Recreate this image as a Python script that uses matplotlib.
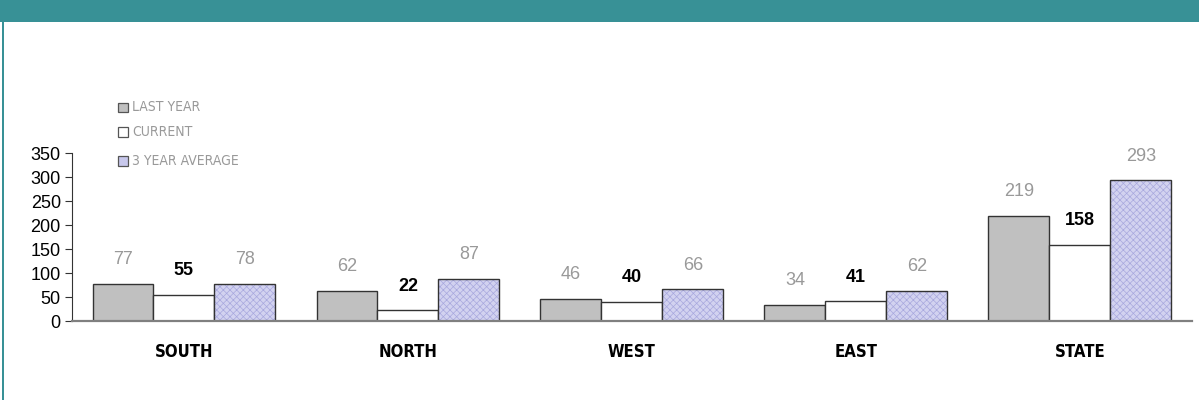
import numpy as np
import matplotlib.pyplot as plt
from matplotlib.patches import Rectangle

regions = ["SOUTH", "NORTH", "WEST", "EAST", "STATE"]
last_year = [77, 62, 46, 34, 219]
current = [55, 22, 40, 41, 158]
three_year_avg = [78, 87, 66, 62, 293]
series_names = ["LAST YEAR", "CURRENT", "3 YEAR AVERAGE"]

fig = plt.figure(figsize=(11.99, 4.0), dpi=100)

# teal header band and left border
fig.patches.append(Rectangle((0, 0.945), 1, 0.055, transform=fig.transFigure,
                             facecolor="#389196", edgecolor="none"))
fig.patches.append(Rectangle((0.0015, 0), 0.0015, 0.945, transform=fig.transFigure,
                             facecolor="#389196", edgecolor="none"))

ax = fig.add_axes([0.060, 0.1975, 0.934, 0.42])
x = np.arange(len(regions))
w = 0.272

edge = "#333333"
ax.bar(x - w, last_year, w, color="#c0c0c0", edgecolor=edge, linewidth=1.0)
ax.bar(x, current, w, color="white", edgecolor=edge, linewidth=1.0)
# fine dotted fill for the average bars
plt.rcParams["hatch.color"] = "#a8a8de"
plt.rcParams["hatch.linewidth"] = 0.5
ax.bar(x + w, three_year_avg, w, color="#d2d2f0", edgecolor="#a8a8de",
       linewidth=0, hatch="xxxxx")
ax.bar(x + w, three_year_avg, w, color="none", edgecolor=edge, linewidth=1.0)

val_font = dict(textcoords="offset points", ha="center", va="center",
                fontsize=13, family="Liberation Sans")
for i in range(len(regions)):
    ax.annotate(str(last_year[i]), (x[i] - w, last_year[i]), xytext=(0, 17.5),
                color="#999999", **val_font)
    ax.annotate(str(current[i]), (x[i], current[i]), xytext=(0, 17.5),
                color="black", fontweight="bold", **val_font)
    ax.annotate(str(three_year_avg[i]), (x[i] + w, three_year_avg[i]), xytext=(0, 17.5),
                color="#999999", **val_font)

ax.set_xlim(-0.5, len(regions) - 0.5)
ax.set_ylim(0, 350)
ax.set_yticks(range(0, 351, 50))
ax.tick_params(axis="y", labelsize=13, length=5, width=0.8, color="#333333", pad=3)
for lbl in ax.get_yticklabels():
    lbl.set_family("Liberation Sans")
ax.set_xticks(x)
ax.set_xticklabels(regions, fontsize=12, family="DejaVu Sans",
                   fontstretch="condensed", fontweight="semibold")
ax.tick_params(axis="x", length=0, pad=16)

ax.spines["top"].set_visible(False)
ax.spines["right"].set_visible(False)
ax.spines["left"].set_color("#333333")
ax.spines["left"].set_linewidth(0.8)
ax.spines["bottom"].set_color("#808080")
ax.spines["bottom"].set_linewidth(1.6)

# legend entries drawn as small squares with grey labels
legend_y = [0.732, 0.670, 0.598]
colors = ["#c0c0c0", "white", "#c8c8ec"]
for name, yy, c in zip(series_names, legend_y, colors):
    fig.patches.append(Rectangle((0.0988, yy - 0.0125), 0.0080, 0.024,
                                 transform=fig.transFigure, facecolor=c,
                                 edgecolor="#555555", linewidth=0.9))
    fig.text(0.1105, yy, name, fontsize=10, color="#999999", va="center",
             family="DejaVu Sans", fontstretch="condensed")

fig.savefig("out.png", dpi=100)
